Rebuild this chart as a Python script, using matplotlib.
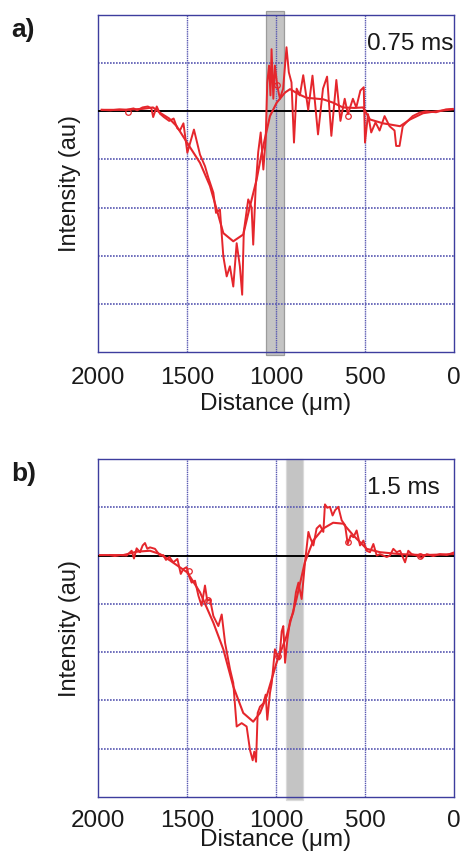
import matplotlib
matplotlib.use("Agg")
import matplotlib.pyplot as plt
from matplotlib.patches import Rectangle
import matplotlib.transforms as mtransforms

plt.rcParams['font.family'] = ['Liberation Sans', 'DejaVu Sans']

# ---------------- data ----------------
x_ticks = [2000, 1500, 1000, 500, 0]
x_tick_labels = ["2000", "1500", "1000", "500", "0"]
panel_labels = ["a)", "b)"]
time_labels = ["0.75 ms", "1.5 ms"]
band_a = (955, 1056)
band_b = (848, 944)

# panel a - smoothed
a_smooth_d = [1979, 1850, 1750, 1691, 1652, 1600, 1558, 1500, 1427, 1371, 1333, 1296,
              1240, 1184, 1146, 1109, 1080, 1034, 996, 949, 921, 870, 828, 736, 680,
              624, 560, 511, 472, 399, 303, 247, 174, 100, 6]
a_smooth_v = [0.03, 0.03, 0.05, 0.08, -0.03, -0.15, -0.31, -0.65, -1.07, -1.55, -2.04, -2.53,
              -2.70, -2.56, -1.97, -1.42, -0.86, -0.10, 0.18, 0.39, 0.46, 0.35, 0.28, 0.25, 0.18,
              0.08, 0.07, 0.08, -0.17, -0.25, -0.31, -0.17, -0.04, 0.0, 0.04]
# panel a - raw
a_raw_d = [1979, 1930, 1880, 1840, 1800, 1780, 1750, 1720, 1700, 1690, 1670, 1652, 1630,
           1600, 1575, 1555, 1540, 1520, 1498, 1461, 1427, 1399, 1380, 1352, 1337, 1315,
           1296, 1277, 1259, 1240, 1221, 1203, 1190, 1181, 1156, 1137, 1128, 1114, 1100,
           1086, 1071, 1058, 1049, 1039, 1031, 1025, 1015, 1006, 993, 978, 960, 941, 928,
           913, 899, 884, 866, 847, 819, 795, 764, 736, 713, 689, 661, 638, 614, 596, 568,
           549, 526, 507, 500, 483, 465, 441, 418, 390, 362, 334, 325, 306, 288, 260, 232,
           194, 157, 101, 45, 7]
a_raw_v = [0.03, 0.02, 0.04, 0.03, 0.06, 0.02, 0.08, 0.10, 0.06, -0.12, 0.10, -0.05, -0.12,
           -0.20, -0.15, -0.35, -0.40, -0.25, -0.86, -0.38, -0.90, -1.14, -1.38, -1.69, -2.11,
           -2.04, -3.01, -3.43, -3.22, -3.64, -2.74, -3.22, -3.81, -2.50, -1.83, -2.00, -2.77,
           -1.56, -0.85, -0.44, -1.21, -0.58, 0.60, 0.95, 0.33, 1.29, 0.26, 0.95, 0.53, 0.26,
           0.47, 1.33, 0.81, 0.60, -0.65, 0.47, 0.33, 0.75, 0.03, 0.74, -0.48, 0.47, 0.72,
           -0.51, 0.65, -0.20, 0.26, -0.06, 0.26, 0.08, 0.43, 0.50, -0.65, -0.06, -0.44, -0.23,
           -0.40, -0.10, -0.31, -0.40, -0.72, -0.72, -0.31, -0.20, -0.10, -0.03, 0.0, -0.02,
           0.04, 0.05]
a_marker_d = [993, 596, 1830]
a_marker_v = [0.55, -0.09, -0.02]

# panel b - smoothed
b_smooth_d = [1989, 1858, 1783, 1708, 1651, 1596, 1498, 1427, 1352, 1296, 1240, 1184, 1128,
              1090, 1053, 997, 941, 885, 838, 791, 735, 679, 622, 566, 491, 416, 304, 173, 4]
b_smooth_v = [0.01, 0.01, 0.08, 0.10, 0.03, -0.10, -0.35, -0.76, -1.39, -1.94, -2.71, -3.26,
              -3.44, -3.26, -2.92, -2.22, -1.67, -0.90, -0.14, 0.31, 0.56, 0.68, 0.66, 0.42,
              0.14, 0.07, 0.03, 0.01, 0.03]
# panel b - raw
b_raw_d = [1933, 1905, 1876, 1839, 1811, 1798, 1783, 1764, 1749, 1736, 1723, 1708, 1680,
           1652, 1633, 1618, 1599, 1577, 1554, 1535, 1521, 1502, 1489, 1474, 1455, 1436,
           1418, 1399, 1386, 1371, 1352, 1324, 1305, 1286, 1258, 1240, 1221, 1193, 1165,
           1146, 1131, 1122, 1112, 1103, 1090, 1071, 1058, 1049, 1034, 1024, 1006, 992,
           981, 968, 959, 949, 936, 921, 903, 888, 874, 856, 837, 818, 809, 790, 772, 753,
           734, 725, 712, 697, 682, 668, 650, 631, 612, 597, 580, 565, 547, 528, 509, 491,
           472, 453, 434, 416, 397, 378, 360, 341, 322, 303, 275, 257, 238, 210, 182, 153,
           116, 79, 41, 4]
b_raw_v = [0.01, -0.01, 0.01, 0.0, 0.10, -0.06, 0.15, 0.07, 0.21, 0.26, 0.14, 0.17, 0.14,
           0.0, 0.01, -0.09, -0.03, -0.14, -0.07, -0.38, -0.28, -0.24, -0.42, -0.56, -0.52,
           -0.83, -1.04, -0.62, -0.94, -0.90, -1.25, -1.46, -1.22, -1.81, -2.36, -2.64, -3.54,
           -3.47, -3.54, -4.03, -4.24, -4.06, -4.27, -3.26, -3.13, -3.06, -2.88, -3.40, -2.85,
           -2.64, -1.94, -2.08, -2.15, -1.57, -1.46, -2.22, -1.74, -1.35, -1.18, -0.76, -0.56,
           -0.90, -0.14, 0.49, 0.38, 0.21, 0.56, 0.63, 0.49, 1.06, 0.99, 1.01, 0.83, 0.94,
           1.01, 0.73, 0.63, 0.24, 0.42, 0.38, 0.52, 0.21, 0.31, 0.10, 0.07, 0.24, 0.0,
           0.03, 0.0, -0.03, 0.0, 0.14, 0.07, 0.10, -0.14, 0.10, 0.03, 0.0, -0.05, 0.03,
           -0.01, 0.03, 0.01, 0.06]
b_marker_d = [595, 190, 990, 1380, 1490]
b_marker_v = [0.28, -0.01, -2.08, -0.92, -0.31]

panels = [
    dict(smooth=(a_smooth_d, a_smooth_v), raw=(a_raw_d, a_raw_v),
         marks=(a_marker_d, a_marker_v), band=band_a, label=panel_labels[0],
         tlabel=time_labels[0], rect=[98/461, 1-352/855, 356/461, 337/855],
         band_ext=(-0.008, 1.012), band_edge='#9c9c9c', tpad=11, lpad=2.5),
    dict(smooth=(b_smooth_d, b_smooth_v), raw=(b_raw_d, b_raw_v),
         marks=(b_marker_d, b_marker_v), band=band_b, label=panel_labels[1],
         tlabel=time_labels[1], rect=[98/461, 1-797/855, 356/461, 338/855],
         band_ext=(-0.01, 1.0), band_edge='#dadada', tpad=9, lpad=-1.5),
]

red = '#e5262c'
frame_col = '#3d3d9e'
grid_col = '#5858b2'

fig = plt.figure(figsize=(4.61, 8.55), dpi=100)

for p in panels:
    ax = fig.add_axes(p['rect'])
    ax.set_xlim(2000, 0)
    ax.set_ylim(-5, 2)
    # band
    trans = mtransforms.blended_transform_factory(ax.transData, ax.transAxes)
    b0, b1 = p['band']
    y0, y1 = p['band_ext']
    ax.add_patch(Rectangle((b1, y0), b0 - b1, y1 - y0, transform=trans,
                           facecolor='#c4c4c4', edgecolor=p['band_edge'], lw=0.9,
                           clip_on=False, zorder=1))
    # grid
    for yv in [-4, -3, -2, -1, 1]:
        ax.axhline(yv, color=grid_col, lw=1.2, ls=(0, (1, 0.8)), zorder=2)
    for xv in [1500, 1000, 500]:
        ax.axvline(xv, color=grid_col, lw=1.0, ls=(0, (1, 0.6)), zorder=2)
    ax.axhline(0, color='black', lw=1.4, zorder=3)
    # curves
    ax.plot(p['raw'][0], p['raw'][1], color=red, lw=1.4, zorder=4)
    ax.plot(p['smooth'][0], p['smooth'][1], color=red, lw=1.5, zorder=5)
    ax.plot(p['marks'][0], p['marks'][1], 'o', mfc='none', mec=red, ms=4, mew=0.9, zorder=5)
    # ticks
    ax.set_xticks(x_ticks)
    ax.set_xticklabels(x_tick_labels, fontsize=17.5, color='#1a1a1a')
    ax.set_yticks([])
    ax.tick_params(axis='x', length=0, pad=p['tpad'])
    for s in ax.spines.values():
        s.set_color(frame_col)
        s.set_linewidth(1.0)
    ax.set_xlabel('Distance (μm)', fontsize=17.5, labelpad=p['lpad'], color='#1a1a1a')
    ax.set_ylabel('Intensity (au)', fontsize=17, labelpad=12, color='#1a1a1a')
    ax.text(0.756, 0.915, p['tlabel'], transform=ax.transAxes, fontsize=17.5,
            ha='left', va='center', color='#1a1a1a', zorder=6)
    ax.text(-0.245, 0.955, p['label'], transform=ax.transAxes, fontsize=19,
            fontweight='bold', ha='left', va='center', color='#1a1a1a')

fig.savefig('out.png', dpi=100)
